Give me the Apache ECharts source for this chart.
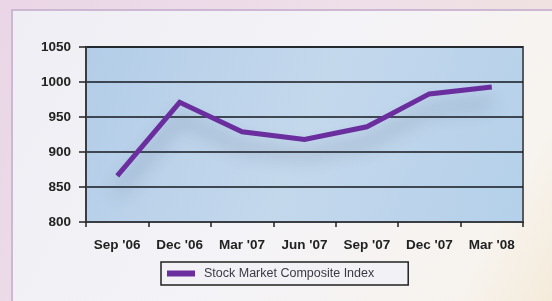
<!DOCTYPE html>
<html>
<head>
<meta charset="utf-8">
<script src="https://cdn.jsdelivr.net/npm/echarts@6/dist/echarts.min.js"></script>
<style>
  html, body { margin: 0; padding: 0; background: #e9d7e6; }
  #chart { width: 552px; height: 301px; }
</style>
</head>
<body>
<div id="chart"></div>
<script>
const categories = ["Sep '06", "Dec '06", "Mar '07", "Jun '07", "Sep '07", "Dec '07", "Mar '08"];
const indexValues = [866, 971, 929, 918, 936, 983, 993];
const seriesName = 'Stock Market Composite Index';
const yTicks = { min: 800, max: 1050, step: 50 };

const chart = echarts.init(document.getElementById('chart'));

chart.setOption({
  animation: false,
  backgroundColor: 'transparent',
  graphic: [
    {
      type: 'rect', z: -10, silent: true,
      shape: { x: 0, y: 0, width: 552, height: 301 },
      style: {
        fill: new echarts.graphic.LinearGradient(0, 0, 1, 1, [
          { offset: 0, color: '#ead6e6' },
          { offset: 0.5, color: '#eedfe9' },
          { offset: 1, color: '#f0e4d8' }
        ])
      }
    },
    {
      type: 'rect', z: -9, silent: true,
      shape: { x: 12, y: 10, width: 545, height: 296 },
      style: {
        fill: new echarts.graphic.LinearGradient(0, 0, 1, 1, [
          { offset: 0, color: '#eeeef4' },
          { offset: 0.5, color: '#f4f3f7' },
          { offset: 0.85, color: '#f7f3ee' },
          { offset: 1, color: '#f4ead8' }
        ]),
        stroke: '#cdb8d4', lineWidth: 2
      }
    }
  ],
  grid: {
    left: 86, right: 29, top: 47, bottom: 79,
    show: true,
    backgroundColor: new echarts.graphic.LinearGradient(0, 0, 1, 1, [
      { offset: 0, color: '#b3cde8' },
      { offset: 0.5, color: '#c4d8ec' },
      { offset: 1, color: '#b4d0ea' }
    ]),
    borderColor: '#555a62',
    borderWidth: 2
  },
  legend: {
    left: 161, top: 262,
    padding: [5, 34, 5, 6],
    borderColor: '#222', borderWidth: 1.5,
    backgroundColor: '#f2f1f5',
    itemWidth: 28, itemHeight: 6, itemGap: 10,
    icon: 'rect',
    textStyle: { fontFamily: 'Liberation Sans', fontSize: 12.5, color: '#3a3a44', padding: [0, 0, 0, 4] },
    data: [seriesName]
  },
  xAxis: {
    type: 'category',
    data: categories,
    boundaryGap: true,
    axisLine: { lineStyle: { color: '#3a3d44', width: 2 } },
    axisTick: { show: true, length: 5, lineStyle: { color: '#222', width: 1.5 } },
    axisLabel: { color: '#222', fontFamily: 'Liberation Sans', fontSize: 13.5, fontWeight: 'bold', margin: 16 }
  },
  yAxis: {
    type: 'value',
    min: yTicks.min, max: yTicks.max, interval: yTicks.step,
    axisLine: { show: true, lineStyle: { color: '#3a3d44', width: 2 } },
    axisTick: { show: true, length: 7, lineStyle: { color: '#222', width: 1.5 } },
    axisLabel: {
      color: '#222', fontFamily: 'Liberation Sans', fontSize: 13.5, fontWeight: 'bold', margin: 15,
      formatter: (v) => String(v)
    },
    splitLine: { lineStyle: { color: '#15181f', width: 1.5 } }
  },
  series: [
    {
      name: seriesName,
      type: 'line',
      data: indexValues,
      symbol: 'none',
      lineStyle: {
        color: '#6a2e9e', width: 5, cap: 'butt', join: 'miter',
        shadowColor: 'rgba(70, 90, 120, 0.45)', shadowBlur: 18, shadowOffsetY: 16
      },
      itemStyle: { color: '#6a2e9e' }
    }
  ]
});
</script>
</body>
</html>
